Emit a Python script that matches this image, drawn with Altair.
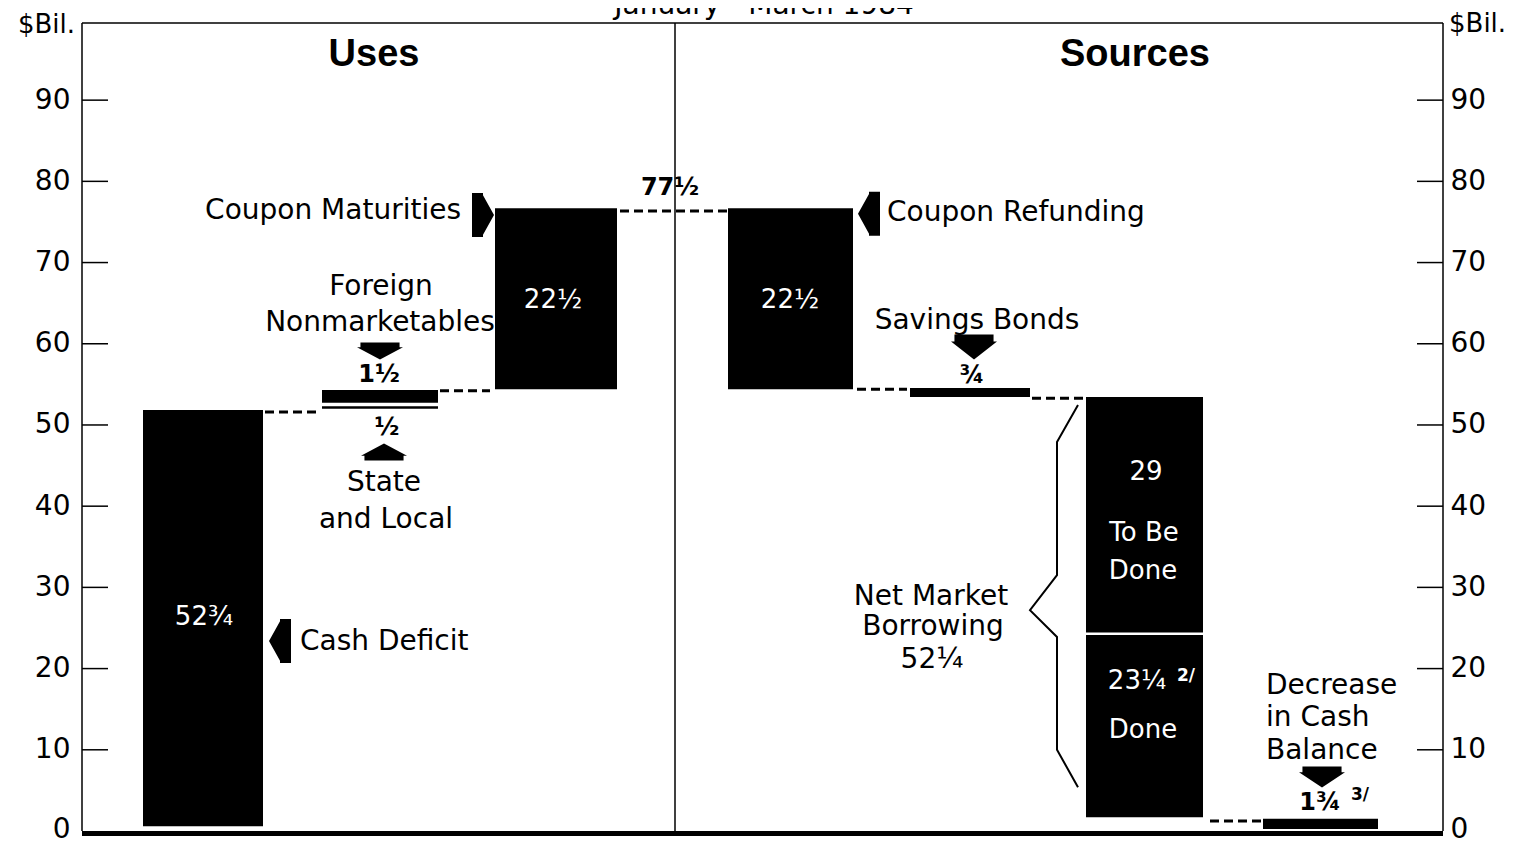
import altair as alt
import pandas as pd

# ---------------- data ----------------
# bars (x positions in chart units across the panel, y in $ billions as drawn)
bar_names = ["Cash Deficit", "State and Local", "Foreign Nonmarketables", "Coupon Maturities",
             "Coupon Refunding", "Savings Bonds", "Net Market Borrowing - To Be Done",
             "Net Market Borrowing - Done", "Decrease in Cash Balance"]
bar_x0 = [61, 240, 240, 413, 646, 828, 1004, 1004, 1181]
bar_x1 = [181, 356, 356, 535, 771, 948, 1121, 1121, 1296]
bar_lo = [0.6, 52.0, 52.75, 54.4, 54.4, 53.45, 24.45, 1.7, 0.25]
bar_hi = [51.85, 52.3, 54.3, 76.7, 76.7, 54.55, 53.45, 24.15, 1.5]

# dashed connectors between steps
con_x0 = [183, 358, 538, 775, 950, 1128]
con_x1 = [236, 408, 645, 825, 1001, 1180]
con_y = [51.6, 54.2, 76.35, 54.4, 53.3, 1.23]

# axis ticks
tick_values = [0, 10, 20, 30, 40, 50, 60, 70, 80, 90]
inner_ticks = [10, 20, 30, 40, 50, 60, 70, 80, 90]

# brace for net market borrowing
brace_order = [0, 1, 2, 3, 4, 5, 6]
brace_x = [996, 975, 975, 948, 975, 975, 996]
brace_y = [52.46, 47.9, 31.5, 27.2, 23.9, 10.0, 5.4]

# labels
lab_c_text = ["Foreign", "Nonmarketables", "State", "and Local", "Savings Bonds",
              "Net Market", "Borrowing", "52\u00bc"]
lab_c_x = [299, 298, 302, 304, 895, 849, 851, 850]
lab_c_y = [67.0, 62.56, 42.86, 38.3, 62.8, 28.8, 25.1, 21.06]

lab_l_text = ["Cash Deficit", "Coupon Refunding", "Decrease", "in Cash", "Balance"]
lab_l_x = [218, 805, 1184, 1184, 1184]
lab_l_y = [23.28, 76.1, 17.86, 13.9, 9.85]

lab_r_text = ["Coupon Maturities"]
lab_r_x = [379]
lab_r_y = [76.35]

frac_text = ["1\u00bd", "\u00bd", "\u00be", "77\u00bd", "1\u00be"]
frac_x = [297, 305, 890, 588, 1238]
frac_y = [56.16, 49.63, 56.0, 79.19, 3.45]

inbar_text = ["52\u00be", "22\u00bd", "22\u00bd", "29", "To Be", "Done", "23\u00bc", "Done"]
inbar_x = [122, 471, 708, 1064, 1062, 1061, 1055, 1061]
inbar_y = [26.35, 65.4, 65.4, 44.2, 36.7, 32.0, 18.47, 12.44]

note_text = ["2/", "3/"]
note_x = [1104, 1278]
note_y = [19.1, 4.43]
note_color = ["white", "black"]

head_text = ["Uses", "Sources"]
head_x = [292, 1053]
head_y = [95.6, 95.6]

# arrows
arr_name = ["Cash Deficit", "Coupon Maturities", "Foreign Nonmarketables", "State and Local",
            "Coupon Refunding", "Savings Bonds", "Decrease in Cash Balance"]
arr_x = [198, 401, 298, 302, 787, 892, 1240]
arr_y = [23.4, 75.86, 59.11, 46.67, 76.0, 59.6, 6.65]
arr_kind = ["left", "right", "down37", "up37", "left", "down54", "down46"]
arr_size = [1936, 1936, 2116, 2116, 1936, 2116, 2116]

# ---------------- helpers ----------------
FONT = "DejaVu Sans"
XS = alt.Scale(domain=[0, 1361], nice=False, zero=False)
YS = alt.Scale(domain=[0, 99.5], nice=False, zero=False)


def X(f):
    return alt.X(f, type="quantitative", scale=XS, axis=None)


def Y(f, axis=None):
    return alt.Y(f, type="quantitative", scale=YS, axis=axis)


def down_path(h):
    m = round(-h + 0.56 * h, 3)
    return f"M-0.85,{-h} L0.85,{-h} L0.85,{m} L1,{m} L0,{h} L-1,{m} L-0.85,{m} Z"


def up_path(h):
    m = round(h - 0.56 * h, 3)
    return f"M-0.85,{h} L0.85,{h} L0.85,{m} L1,{m} L0,{-h} L-1,{m} L-0.85,{m} Z"


left_path = "M0.5,-1 L0.5,1 L0,1 L0,0.9 L-0.5,0 L0,-0.9 L0,-1 Z"
right_path = "M-0.5,-1 L-0.5,1 L0,1 L0,0.9 L0.5,0 L0,-0.9 L0,-1 Z"
shape_domain = ["left", "right", "down37", "up37", "down54", "down46"]
shape_range = [left_path, right_path, down_path(0.37), up_path(0.37), down_path(0.54), down_path(0.46)]

bars = pd.DataFrame({"name": bar_names, "x0": bar_x0, "x1": bar_x1, "lo": bar_lo, "hi": bar_hi})
cons = pd.DataFrame({"x0": con_x0, "x1": con_x1, "y": con_y})
brace = pd.DataFrame({"o": brace_order, "x": brace_x, "y": brace_y})
arrows = pd.DataFrame({"name": arr_name, "x": arr_x, "y": arr_y, "kind": arr_kind, "size": arr_size})

zero_lift = {"condition": {"test": "datum.value == 0", "value": -2}, "value": 0}

left_axis = alt.Axis(orient="left", values=tick_values, ticks=False, domain=False, grid=False,
                     title=None, labelFont=FONT, labelFontSize=28, labelColor="black",
                     labelPadding=12, labelFlush=False, labelOffset=zero_lift)
right_axis = alt.Axis(orient="right", values=tick_values, ticks=False, domain=False, grid=False,
                      title=None, labelFont=FONT, labelFontSize=28, labelColor="black",
                      labelPadding=7, labelFlush=False, labelOffset=zero_lift)

bar_layer = alt.Chart(bars).mark_rect(color="black").encode(
    x=X("x0"), x2="x1", y=Y("lo", left_axis), y2="hi", tooltip=["name:N"]
)

frame_df = pd.DataFrame({"x0": [0, 0, 1361, 593], "x1": [1361, 0, 1361, 593],
                         "y0": [99.5, 0, 0, 0], "y1": [99.5, 99.5, 99.5, 99.5]})
frame_layer = alt.Chart(frame_df).mark_rule(color="black", strokeWidth=1.5).encode(
    x=X("x0"), x2="x1", y=Y("y0", right_axis), y2="y1"
)
base_df = pd.DataFrame({"x0": [0], "x1": [1361], "y": [-0.3]})
base_layer = alt.Chart(base_df).mark_rule(color="black", strokeWidth=5).encode(
    x=X("x0"), x2="x1", y=Y("y")
)

ticks_df = pd.DataFrame({"v": inner_ticks})
tick_l = alt.Chart(ticks_df).mark_rule(color="black", strokeWidth=1.5).encode(
    x=alt.value(0), x2=alt.value(26), y=Y("v"))
tick_r = alt.Chart(ticks_df).mark_rule(color="black", strokeWidth=1.5).encode(
    x=alt.value(1335), x2=alt.value(1361), y=Y("v"))

con_layer = alt.Chart(cons).mark_rule(color="black", strokeWidth=3, strokeDash=[9, 5]).encode(
    x=X("x0"), x2="x1", y=Y("y")
)

brace_layer = alt.Chart(brace).mark_line(color="black", strokeWidth=2).encode(
    x=X("x"), y=Y("y"), order="o:Q"
)

arrow_layer = alt.Chart(arrows).mark_point(filled=True, opacity=1, color="black", strokeWidth=0).encode(
    x=X("x"), y=Y("y"),
    shape=alt.Shape("kind:N", scale=alt.Scale(domain=shape_domain, range=shape_range), legend=None),
    size=alt.Size("size:Q", scale=None),
)


def text_layer(texts, xs, ys, **kw):
    df = pd.DataFrame({"t": texts, "x": xs, "y": ys})
    opts = dict(font=FONT, fontSize=28, color="black", baseline="middle", align="center")
    opts.update(kw)
    return alt.Chart(df).mark_text(**opts).encode(x=X("x"), y=Y("y"), text="t:N")


t_center = text_layer(lab_c_text, lab_c_x, lab_c_y)
t_left = text_layer(lab_l_text, lab_l_x, lab_l_y, align="left")
t_right = text_layer(lab_r_text, lab_r_x, lab_r_y, align="right")
t_frac = text_layer(frac_text, frac_x, frac_y, fontSize=24, fontWeight="bold")
t_inbar = text_layer(inbar_text, inbar_x, inbar_y, fontSize=26, color="white")
t_head = text_layer(head_text, head_x, head_y, font="Liberation Sans",
                    fontSize=38, fontWeight="bold")
t_unit_l = text_layer(["$Bil."], [-7], [99.26], align="right", fontSize=26)
t_unit_r = text_layer(["$Bil."], [1367], [99.4], align="left", fontSize=26)
t_title = text_layer(["January - March 1984"], [682], [101.6], fontSize=28)
t_title_note = text_layer(["1/"], [872], [102.4], fontSize=16, fontWeight="bold")

note_df = pd.DataFrame({"t": note_text, "x": note_x, "y": note_y, "c": note_color})
t_note = alt.Chart(note_df).mark_text(font=FONT, fontSize=17, fontWeight="bold",
                                      baseline="middle", align="center").encode(
    x=X("x"), y=Y("y"), text="t:N", color=alt.Color("c:N", scale=None)
)

chart = alt.layer(
    bar_layer, frame_layer, base_layer, tick_l, tick_r, con_layer, brace_layer, arrow_layer,
    t_center, t_left, t_right, t_frac, t_inbar, t_note, t_head, t_unit_l, t_unit_r,
    t_title, t_title_note,
).resolve_axis(y="independent").properties(
    width=1361, height=808,
    padding={"left": 74, "top": 15, "right": 64, "bottom": 15},
    autosize=alt.AutoSizeParams(type="none"),
    background="white",
).configure_view(stroke=None)

chart.save("out.html", embed_options={"renderer": "svg", "actions": False})
